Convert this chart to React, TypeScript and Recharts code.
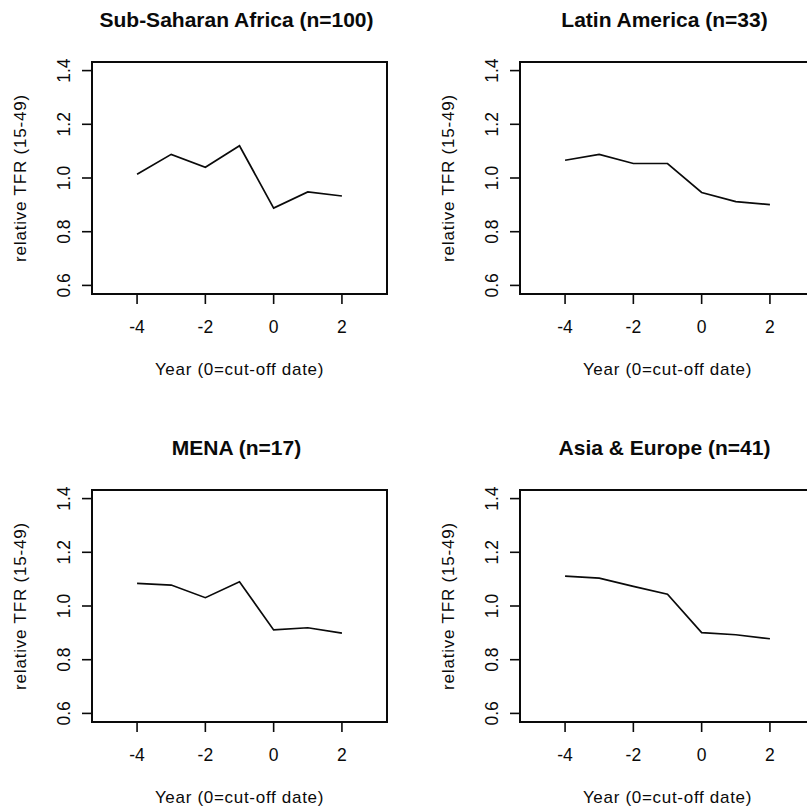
import React from "react";
import {
  Label,
  Line,
  LineChart,
  ReferenceArea,
  XAxis,
  YAxis,
} from "recharts";

// years relative to the cut-off date
const years = [-4, -3, -2, -1, 0, 1, 2];

// relative TFR (15-49) by region
const subSaharanAfrica = [1.014, 1.088, 1.04, 1.12, 0.888, 0.948, 0.933];
const latinAmerica = [1.066, 1.088, 1.054, 1.054, 0.946, 0.912, 0.901];
const mena = [1.084, 1.078, 1.031, 1.09, 0.911, 0.919, 0.899];
const asiaEurope = [1.111, 1.104, 1.073, 1.044, 0.901, 0.893, 0.878];

const panelTitles = [
  "Sub-Saharan Africa (n=100)",
  "Latin America (n=33)",
  "MENA (n=17)",
  "Asia & Europe (n=41)",
];
const panelSeries = [subSaharanAfrica, latinAmerica, mena, asiaEurope];

const xTicks = [-4, -2, 0, 2];
const yTicks = [0.6, 0.8, 1.0, 1.2, 1.4];

// R-style limits: xlim c(-5, 3), ylim c(0.6, 1.4), padded by 4%
const xDomain: [number, number] = [-5.32, 3.32];
const yDomain: [number, number] = [0.568, 1.432];

const FONT = "Arial, 'Liberation Sans', sans-serif";
const INK = "#0a0a0a";
const PANEL = 428;

const XTick = ({ x, payload }: any) => (
  <text
    x={x}
    y={333}
    textAnchor="middle"
    fontSize={17.5}
    fontFamily={FONT}
    fill={INK}
  >
    {String(payload.value)}
  </text>
);

const YTick = ({ y, payload }: any) => (
  <text
    transform={`translate(70, ${y}) rotate(-90)`}
    textAnchor="middle"
    fontSize={17.5}
    fontFamily={FONT}
    fill={INK}
  >
    {Number(payload.value).toFixed(1)}
  </text>
);

function Panel({ title, values }: { title: string; values: number[] }) {
  const data = years.map((year, i) => ({ year, tfr: values[i] }));

  return (
    <LineChart
      width={PANEL}
      height={PANEL}
      data={data}
      margin={{ top: 62, right: 41, bottom: 0, left: 0 }}
      accessibilityLayer={false}
    >
      <XAxis
        dataKey="year"
        type="number"
        domain={xDomain}
        ticks={xTicks}
        allowDataOverflow
        height={134}
        axisLine={false}
        tickSize={10}
        tickLine={{ stroke: INK, strokeWidth: 1.6 }}
        tick={<XTick />}
        interval={0}
      >
        <Label
          value="Year (0=cut-off date)"
          position="insideBottom"
          offset={53}
          style={{
            fontSize: 17,
            fontFamily: FONT,
            fill: INK,
            letterSpacing: 0.7,
          }}
        />
      </XAxis>
      <YAxis
        type="number"
        domain={yDomain}
        ticks={yTicks}
        allowDataOverflow
        width={92}
        axisLine={false}
        tickSize={10}
        tickLine={{ stroke: INK, strokeWidth: 1.6 }}
        tick={<YTick />}
        interval={0}
      >
        <Label
          value="relative TFR (15-49)"
          angle={-90}
          position="insideLeft"
          offset={20}
          style={{
            textAnchor: "middle",
            fontSize: 17,
            fontFamily: FONT,
            fill: INK,
            letterSpacing: 0.8,
          }}
        />
      </YAxis>
      <ReferenceArea
        x1={xDomain[0]}
        x2={xDomain[1]}
        y1={yDomain[0]}
        y2={yDomain[1]}
        fill="none"
        stroke={INK}
        strokeWidth={2}
        ifOverflow="visible"
      >
        <Label
          value={title}
          position="top"
          offset={35}
          dx={-3}
          style={{
            fontSize: 21,
            fontWeight: 700,
            fontFamily: FONT,
            fill: INK,
          }}
        />
      </ReferenceArea>
      <Line
        dataKey="tfr"
        type="linear"
        stroke={INK}
        strokeWidth={1.7}
        dot={false}
        activeDot={false}
        isAnimationActive={false}
      />
    </LineChart>
  );
}

export default function App() {
  return (
    <div
      style={{
        position: "absolute",
        left: 0,
        top: 0,
        width: 807,
        height: 811,
        overflow: "hidden",
        background: "#fff",
      }}
    >
      <div
        style={{
          display: "grid",
          gridTemplateColumns: `${PANEL}px ${PANEL}px`,
          width: PANEL * 2,
        }}
      >
        {panelTitles.map((title, i) => (
          <Panel key={title} title={title} values={panelSeries[i]} />
        ))}
      </div>
    </div>
  );
}
